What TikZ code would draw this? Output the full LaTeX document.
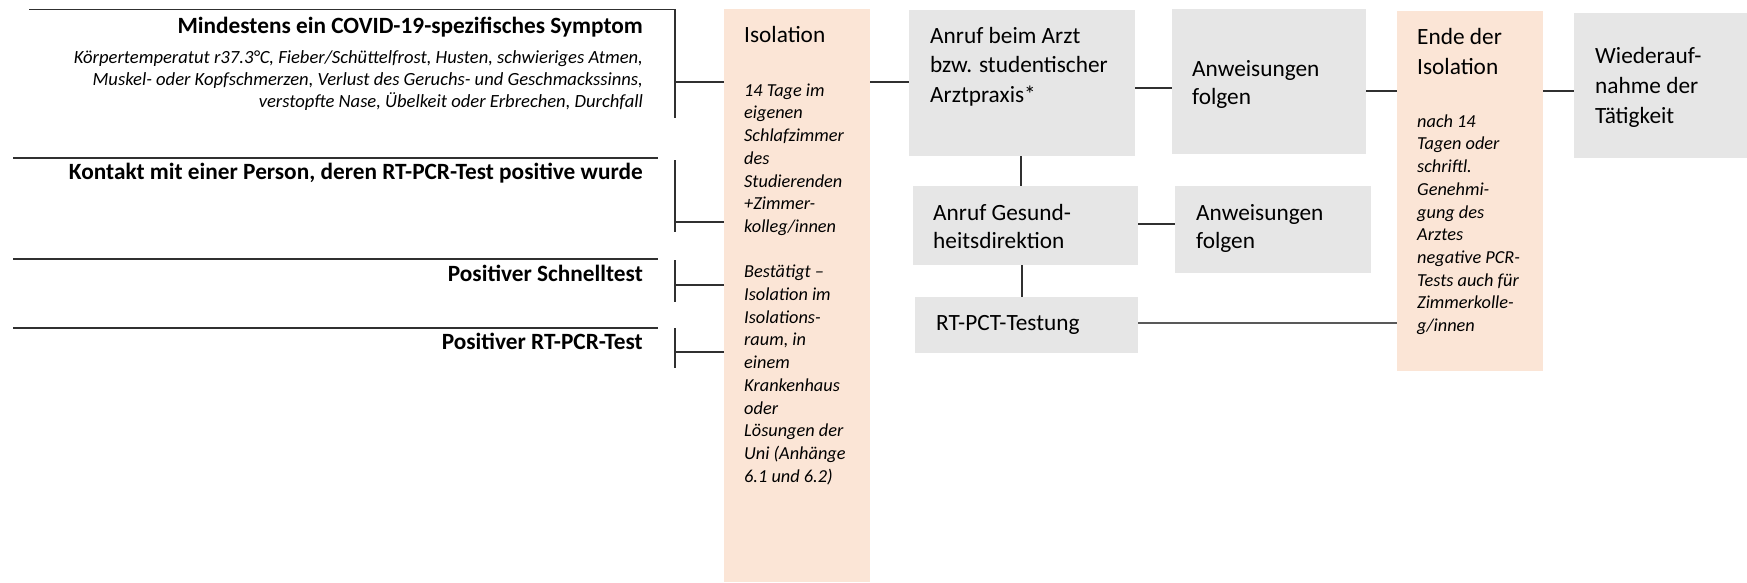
\documentclass[tikz,border=0pt]{standalone}
\usepackage{fontspec}
\setmainfont{Carlito}
\definecolor{peach}{HTML}{FBE5D6}
\definecolor{boxgray}{HTML}{E6E6E6}
\definecolor{linec}{HTML}{303030}
\definecolor{linec2}{HTML}{595959}
\begin{document}
\begin{tikzpicture}[x=1pt,y=-1pt,
  ln/.style={draw=linec,line width=1.5pt},
  ln2/.style={draw=linec2,line width=2pt},
  pbox/.style={fill=peach,draw=none,inner sep=0pt,outer sep=0pt,anchor=north west},
  gbox/.style={fill=boxgray,draw=none,inner sep=0pt,outer sep=0pt,anchor=north west},
  bigtxt/.style={font=\fontsize{23.3}{29.5}\selectfont,inner sep=0pt,anchor=north west,align=left},
  bigtxtb/.style={font=\bfseries\fontsize{23.3}{29.5}\selectfont,inner sep=0pt,anchor=north east,align=right},
  ittxt/.style={font=\itshape\fontsize{18.3}{22.7}\selectfont,inner sep=0pt,anchor=north west,align=left},
  ittxtr/.style={font=\itshape\fontsize{18.6}{22}\selectfont,inner sep=0pt,anchor=north east,align=right}
]
\useasboundingbox (0,0) rectangle (1747,583);

% boxes
\node[pbox,minimum width=146,minimum height=573] (iso) at (724,9) {};
\node[gbox,minimum width=226,minimum height=146] (arzt) at (909,10) {};
\node[gbox,minimum width=194,minimum height=145] (anw1) at (1172,9) {};
\node[gbox,minimum width=225,minimum height=79] (gesund) at (913,186) {};
\node[gbox,minimum width=196,minimum height=87] (anw2) at (1175,186) {};
\node[gbox,minimum width=223,minimum height=56] (rtpct) at (915,297) {};
\node[pbox,minimum width=146,minimum height=360] (ende) at (1397,11) {};
\node[gbox,minimum width=173,minimum height=145] (wieder) at (1574,13) {};

% left texts
\node[bigtxtb] (t1) at (643,13) {\rule{0pt}{20pt}Mindestens ein COVID-19-spezifisches Symptom};
\node[ittxtr] (t1s) at (643,47) {\rule{0pt}{16pt}Körpertemperatut r37.3°C, Fieber/Schüttelfrost, Husten, schwieriges Atmen,\\Muskel- oder Kopfschmerzen, Verlust des Geruchs- und Geschmackssinns,\\verstopfte Nase, Übelkeit oder Erbrechen, Durchfall};
\node[bigtxtb] (t2) at (643,159) {\rule{0pt}{20pt}Kontakt mit einer Person, deren RT-PCR-Test positive wurde};
\node[bigtxtb] (t3) at (643,261) {\rule{0pt}{20pt}Positiver Schnelltest};
\node[bigtxtb] (t4) at (643,329) {\rule{0pt}{20pt}Positiver RT-PCR-Test};

% left brackets
\draw[ln] (29,9.5) -- (675,9.5) -- (675,118);
\draw[ln] (13,158) -- (658,158);
\draw[ln] (675,160) -- (675,232);
\draw[ln] (13,259) -- (658,259);
\draw[ln] (675,260) -- (675,302);
\draw[ln] (13,328) -- (658,328);
\draw[ln] (675,328) -- (675,368);

\coordinate (b1) at (675,82);
\coordinate (b2) at (675,222);
\coordinate (b3) at (675,285);
\coordinate (b4) at (675,352);
\draw[ln] (b1) -- (iso.west |- b1);
\draw[ln] (b2) -- (iso.west |- b2);
\draw[ln] (b3) -- (iso.west |- b3);
\draw[ln] (b4) -- (iso.west |- b4);

% box texts
\node[bigtxt] (isot) at (744,22) {\rule{0pt}{20pt}Isolation};
\node[ittxt] (isos) at (744,80) {\rule{0pt}{16pt}14 Tage im\\eigenen\\Schlafzimmer\\des\\Studierenden\\+Zimmer-\\kolleg/innen\\[22.7pt]Bestätigt –\\Isolation im\\Isolations-\\raum, in\\einem\\Krankenhaus\\oder\\Lösungen der\\Uni (Anhänge\\6.1 und 6.2)};
\node[bigtxt] (arztt) at (930,23) {\rule{0pt}{20pt}Anruf beim Arzt\\bzw. studentischer\\Arztpraxis*};
\node[bigtxt,font=\fontsize{23.3}{28}\selectfont] (anw1t) at (1192,56) {\rule{0pt}{20pt}Anweisungen\\folgen};
\node[bigtxt,font=\fontsize{23.3}{28}\selectfont] (gesundt) at (933,200) {\rule{0pt}{20pt}Anruf Gesund-\\heitsdirektion};
\node[bigtxt,font=\fontsize{23.3}{28}\selectfont] (anw2t) at (1196,200) {\rule{0pt}{20pt}Anweisungen\\folgen};
\node[bigtxt] (rtpctt) at (936,310) {\rule{0pt}{20pt}RT-PCT-Testung};
\node[bigtxt,font=\fontsize{23.3}{30}\selectfont] (endet) at (1417,24) {\rule{0pt}{20pt}Ende der\\Isolation};
\node[ittxt] (endes) at (1417,111) {\rule{0pt}{16pt}nach 14\\Tagen oder\\schriftl.\\Genehmi-\\gung des\\Arztes\\negative PCR-\\Tests auch für\\Zimmerkolle-\\g/innen};
\node[bigtxt,font=\fontsize{23.3}{30}\selectfont] (wiedert) at (1595,43) {\rule{0pt}{20pt}Wiederauf-\\nahme der\\Tätigkeit};

% connectors
\draw[ln] (iso.east |- 0,82) -- (arzt.west |- 0,82);
\draw[ln] (arzt.east |- 0,88) -- (anw1.west |- 0,88);
\draw[ln] (anw1.east |- 0,91) -- (ende.west |- 0,91);
\draw[ln] (ende.east |- 0,91) -- (wieder.west |- 0,91);
\draw[ln] (arzt.south -| 1021,0) -- (gesund.north -| 1021,0);
\draw[ln] (gesund.east |- 0,224) -- (anw2.west |- 0,224);
\draw[ln] (gesund.south -| 1022,0) -- (rtpct.north -| 1022,0);
\draw[ln2] (rtpct.east |- 0,323) -- (ende.west |- 0,323);
\end{tikzpicture}
\end{document}
